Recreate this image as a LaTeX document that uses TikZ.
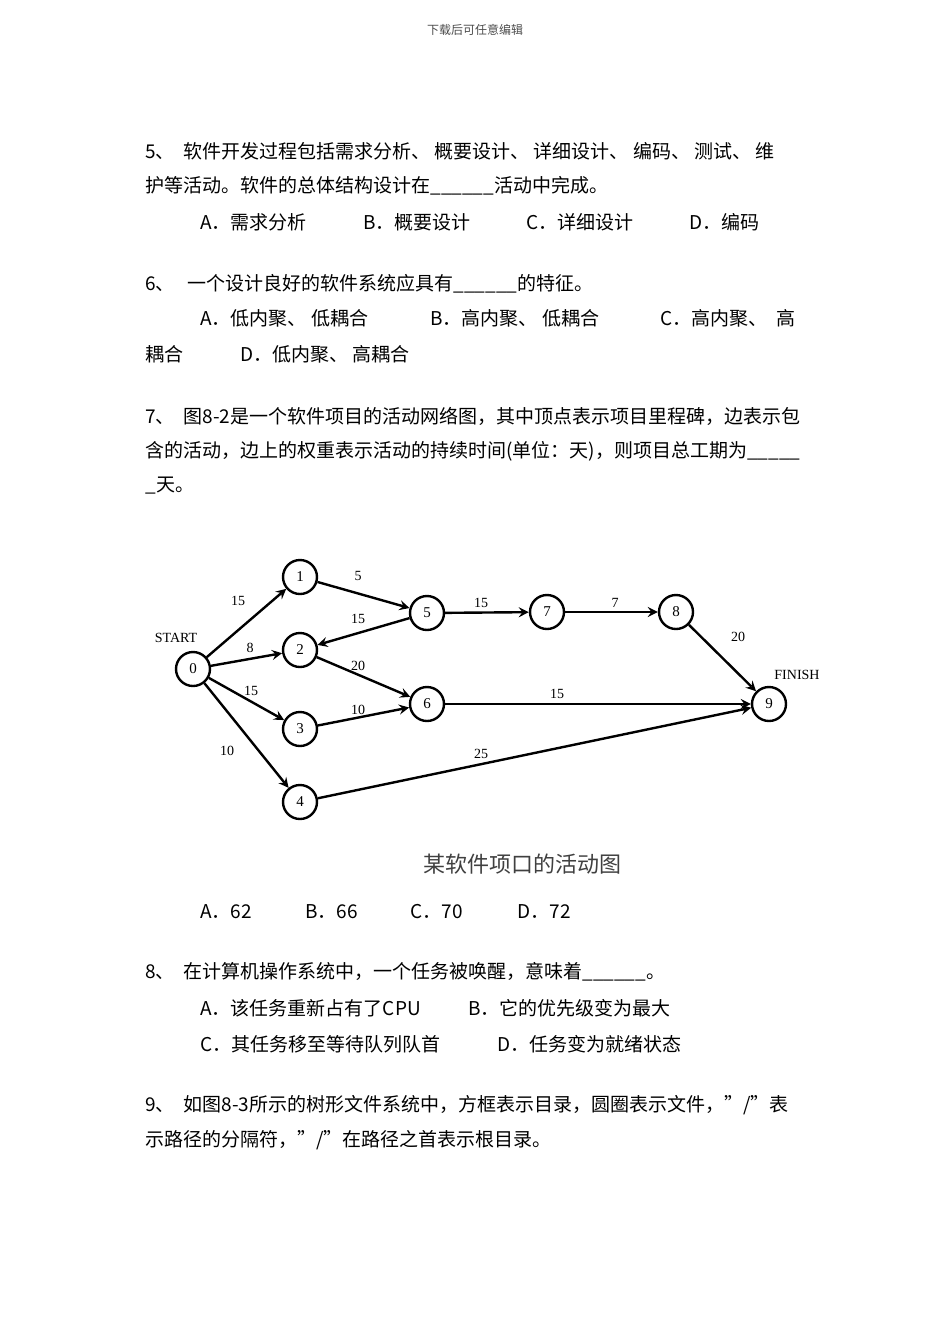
\documentclass[tikz,border=0pt]{standalone}
\usepackage{fontspec}
\setmainfont{Liberation Serif}
\newfontfamily\cjk{Noto Sans CJK SC}
\begin{document}
\begin{tikzpicture}[x=0.5pt,y=-0.5pt,
  txt/.style={anchor=west,inner sep=0,font=\cjk\fontsize{9.5}{11}\selectfont},
  nd/.style={circle,draw,line width=1.2pt,minimum size=17pt,inner sep=0,font=\fontsize{7.5}{8}\selectfont},
  ar/.style={->,>=stealth,line width=1.2pt},
  lb/.style={font=\fontsize{7}{8}\selectfont,inner sep=0}]
\useasboundingbox (0,0) rectangle (950,1344);
\node[font=\cjk\fontsize{6}{7}\selectfont,text=black!70] (hd) at (475,30) {下载后可任意编辑};
\node[txt] (l1) at (145,151) {5、\ \ 软件开发过程包括需求分析、\ 概要设计、\ 详细设计、\ 编码、\ 测试、\ 维};
\node[txt] (l2) at (145,186) {护等活动。软件的总体结构设计在\_\_\_\_\_\_活动中完成。};
\node[txt] (l3) at (200,222) {\makebox[81.5pt][l]{A．需求分析}\makebox[81.5pt][l]{B．概要设计}\makebox[81.5pt][l]{C．详细设计}D．编码};
\node[txt] (l4) at (145,284) {6、\ \ \ 一个设计良好的软件系统应具有\_\_\_\_\_\_的特征。};
\node[txt] (l5) at (200,318) {\makebox[115pt][l]{A．低内聚、\ 低耦合}\makebox[115pt][l]{B．高内聚、\ 低耦合}C．高内聚、\ \ 高};
\node[txt] (l6) at (145,354) {\makebox[47.5pt][l]{耦合}D．低内聚、\ 高耦合};
\node[txt] (l7) at (145,416) {7、\ \ 图8-2是一个软件项目的活动网络图，其中顶点表示项目里程碑，边表示包};
\node[txt] (l8) at (145,451) {含的活动，边上的权重表示活动的持续时间(单位：天)，则项目总工期为\_\_\_\_\_};
\node[txt] (l9) at (145,486) {\_天。};
% graph
\node[nd] (n0) at (193,669) {0};
\node[nd] (n1) at (300,577) {1};
\node[nd] (n2) at (300,650) {2};
\node[nd] (n3) at (300,729) {3};
\node[nd] (n4) at (300,802) {4};
\node[nd] (n5) at (427,613) {5};
\node[nd] (n6) at (427,704) {6};
\node[nd] (n7) at (547,612) {7};
\node[nd] (n8) at (676,612) {8};
\node[nd] (n9) at (769,704) {9};
\node[lb] (st) at (176,638) {START};
\node[lb] (fi) at (797,675) {FINISH};
\draw[ar] (n0) -- (n1);
\draw[ar] (n0) -- (n2);
\draw[ar] (n0) -- (n3);
\draw[ar] (n0) -- (n4);
\draw[ar] (n1) -- (n5);
\draw[ar] (n5) -- (n2);
\draw[ar] (n2) -- (n6);
\draw[ar] (n3) -- (n6);
\draw[ar] (n5) -- (n7);
\draw[ar] (n7) -- (n8);
\draw[ar] (n8) -- (n9);
\draw[ar] (n6) -- (n9);
\draw[ar] (n4) -- (n9);
\node[lb] (w01) at (238,601) {15};
\node[lb] (w15) at (358,576) {5};
\node[lb] (w52) at (358,619) {15};
\node[lb] (w02) at (250,648) {8};
\node[lb] (w26) at (358,666) {20};
\node[lb] (w03) at (251,691) {15};
\node[lb] (w36) at (358,710) {10};
\node[lb] (w04) at (227,751) {10};
\node[lb] (w57) at (481,603) {15};
\node[lb] (w78) at (615,603) {7};
\node[lb] (w89) at (738,637) {20};
\node[lb] (w69) at (557,694) {15};
\node[lb] (w49) at (481,754) {25};
\node[font=\cjk\fontsize{11}{12}\selectfont,text=black!75] (cap) at (522,864) {某软件项口的活动图};
\node[txt] (l10) at (200,912) {\makebox[52.5pt][l]{A．62}\makebox[52.5pt][l]{B．66}\makebox[53.5pt][l]{C．70}D．72};
\node[txt] (l11) at (145,972) {8、\ \ 在计算机操作系统中，一个任务被唤醒，意味着\_\_\_\_\_\_。};
\node[txt] (l12) at (200,1008) {\makebox[134pt][l]{A．该任务重新占有了CPU}B．它的优先级变为最大};
\node[txt] (l13) at (200,1044) {\makebox[148.5pt][l]{C．其任务移至等待队列队首}D．任务变为就绪状态};
\node[txt] (l14) at (145,1105) {9、\ \ 如图8-3所示的树形文件系统中，方框表示目录，圆圈表示文件，”/”表};
\node[txt] (l15) at (145,1140) {示路径的分隔符，”/”在路径之首表示根目录。};
\end{tikzpicture}
\end{document}
